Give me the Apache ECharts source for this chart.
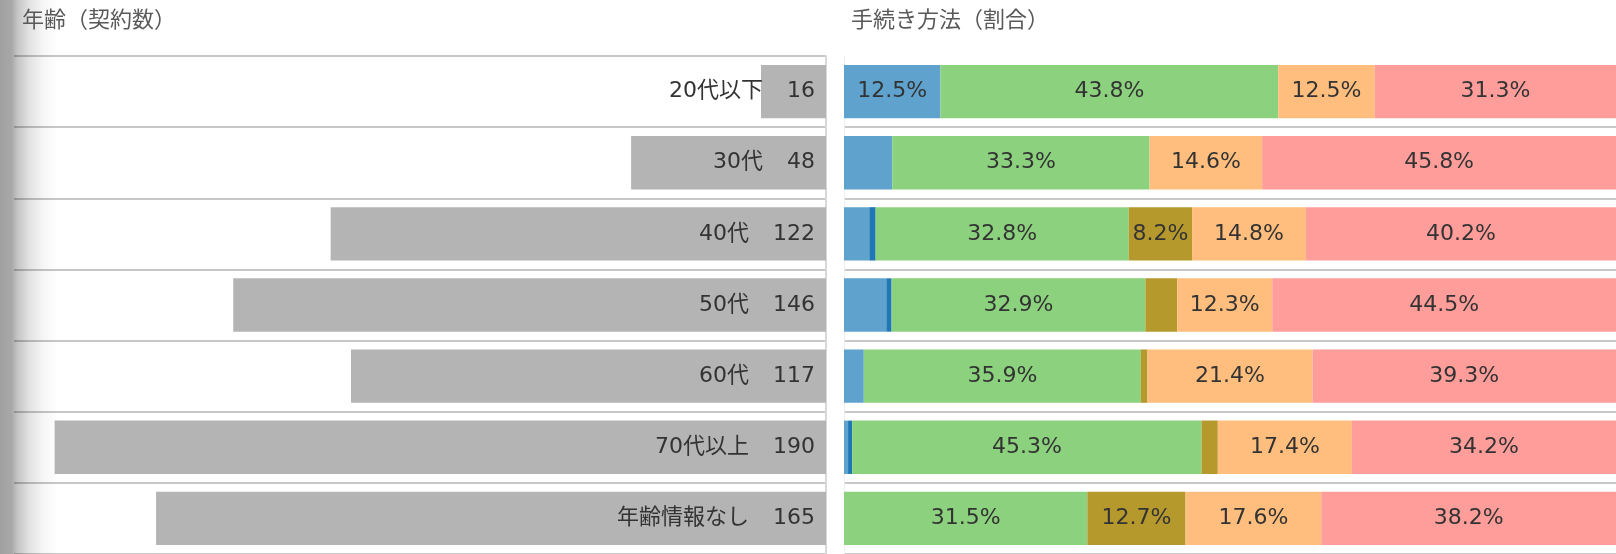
<!DOCTYPE html>
<html>
<head>
<meta charset="utf-8">
<script src="https://cdn.jsdelivr.net/npm/echarts@6/dist/echarts.min.js"></script>
<style>
    html, body { margin: 0; padding: 0; background: #fff; }
    #main { width: 1616px; height: 554px; }
</style>
</head>
<body>
<div id="main"></div>
<script>
// 年齢区分と契約数
var ages = ['20代以下', '30代', '40代', '50代', '60代', '70代以上', '年齢情報なし'];
var totals = [16, 48, 122, 146, 117, 190, 165];

// 手続き方法ごとの件数（年齢区分順）
var methodNames = ['方法A', '方法B', '方法C', '方法D', '方法E', '方法F'];
var methodA = [2, 3, 4, 8, 3, 1, 0];
var methodB = [0, 0, 1, 1, 0, 1, 0];
var methodC = [7, 16, 40, 48, 42, 86, 52];
var methodD = [0, 0, 10, 6, 1, 4, 21];
var methodE = [2, 7, 18, 18, 25, 33, 29];
var methodF = [5, 22, 49, 65, 46, 65, 63];
var methodColors = ['#5fa2ce', '#1f77b4', '#8cd17d', '#b6992d', '#ffbe7d', '#ff9d9a'];

var font = '"DejaVu Sans", "Noto Sans CJK JP", sans-serif';
var myChart = echarts.init(document.getElementById('main'));

var methodSeries = [methodA, methodB, methodC, methodD, methodE, methodF].map(function (counts, k) {
    return {
        name: methodNames[k],
        type: 'bar',
        stack: 'method',
        xAxisIndex: 1,
        yAxisIndex: 1,
        barCategoryGap: '25%',
        silent: true,
        itemStyle: { color: methodColors[k] },
        label: {
            show: true,
            position: 'inside',
            color: '#333',
            fontSize: 22,
            fontFamily: font,
            formatter: function (p) {
                return p.value >= 7.5 ? p.value.toFixed(1) + '%' : '';
            }
        },
        data: counts.map(function (c, i) { return c / totals[i] * 100; })
    };
});

var option = {
    animation: false,
    backgroundColor: '#fff',
    title: [
        {
            text: '年齢（契約数）',
            left: 22, top: 8, padding: 0,
            textStyle: { fontSize: 22, color: '#595959', fontWeight: 'normal', fontFamily: '"Noto Sans CJK JP"' }
        },
        {
            text: '手続き方法（割合）',
            left: 851, top: 8, padding: 0,
            textStyle: { fontSize: 22, color: '#595959', fontWeight: 'normal', fontFamily: '"Noto Sans CJK JP"' }
        }
    ],
    graphic: [
        {
            type: 'rect',
            left: 0, top: 0, z: -10,
            shape: { width: 58, height: 554 },
            style: {
                fill: new echarts.graphic.LinearGradient(0, 0, 1, 0, [
                    { offset: 0, color: '#a0a0a0' },
                    { offset: 0.2, color: '#a8a8a8' },
                    { offset: 0.3, color: '#c4c4c4' },
                    { offset: 0.5, color: '#e2e2e2' },
                    { offset: 0.75, color: '#f6f6f6' },
                    { offset: 1, color: '#ffffff' }
                ])
            }
        }
    ],
    grid: [
        { left: 14, top: 56, width: 812, height: 504 },
        { left: 844, top: 56, width: 772, height: 504 }
    ],
    xAxis: [
        { gridIndex: 0, type: 'value', min: 0, max: 200, inverse: true, show: false },
        { gridIndex: 1, type: 'value', min: 0, max: 100, show: false }
    ],
    yAxis: [
        {
            gridIndex: 0, type: 'category', data: ages, inverse: true, position: 'right',
            axisLine: { show: true, onZero: false, lineStyle: { color: '#d8d8d8', width: 2 } },
            axisTick: { show: false },
            axisLabel: { show: false },
            splitLine: { show: true, lineStyle: { color: 'rgba(0,0,0,0.22)', width: 2 } }
        },
        {
            gridIndex: 1, type: 'category', data: ages, inverse: true,
            axisLine: { show: true, onZero: false, lineStyle: { color: '#eeeeee', width: 1 } },
            axisTick: { show: false },
            axisLabel: { show: false },
            splitLine: {
                show: true,
                interval: function (i) { return i > 0; },
                lineStyle: { color: '#c8c8c8', width: 2 }
            }
        }
    ],
    series: [
        {
            name: '契約数',
            type: 'bar',
            xAxisIndex: 0,
            yAxisIndex: 0,
            barCategoryGap: '25%',
            silent: true,
            itemStyle: { color: '#b4b4b4' },
            label: {
                show: true,
                position: 'insideRight',
                distance: 11,
                color: '#333',
                fontSize: 22,
                fontFamily: font,
                formatter: function (p) {
                    return '{n|' + p.name + '}{v|' + p.value + '}';
                },
                rich: {
                    n: { fontSize: 22, fontFamily: font, color: '#333' },
                    v: { fontSize: 22, fontFamily: font, color: '#333', padding: [0, 0, 0, 24] }
                }
            },
            data: totals
        }
    ].concat(methodSeries)
};

myChart.setOption(option);
</script>
</body>
</html>
